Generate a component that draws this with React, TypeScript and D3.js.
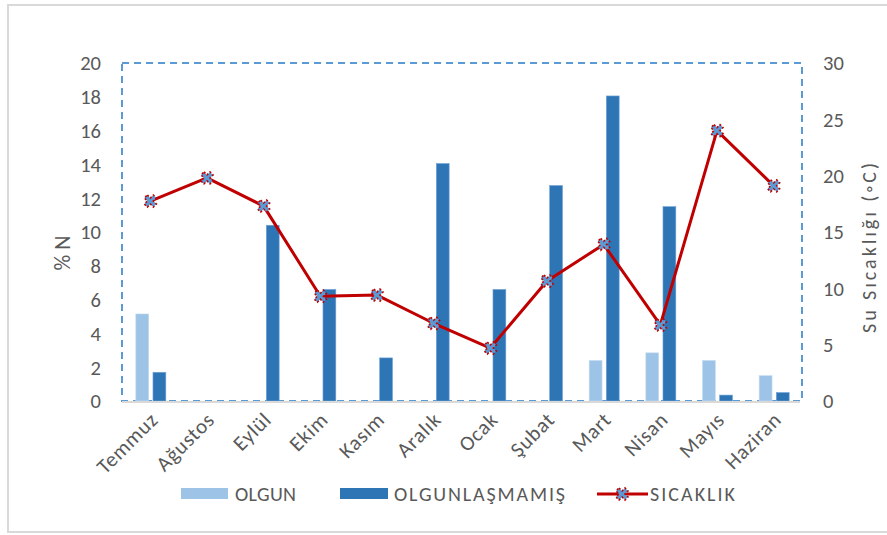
import React from "react";
import * as d3 from "d3";

const months = ["Temmuz", "Ağustos", "Eylül", "Ekim", "Kasım", "Aralık", "Ocak", "Şubat", "Mart", "Nisan", "Mayıs", "Haziran"];
const olgun = [5.15, 0, 0, 0, 0, 0, 0, 0, 2.4, 2.85, 2.4, 1.5];
const olgunlasmamis = [1.7, 0, 10.4, 6.6, 2.55, 14.05, 6.6, 12.75, 18.05, 11.5, 0.35, 0.5];
const sicaklik = [17.75, 19.8, 17.3, 9.3, 9.4, 6.9, 4.7, 10.65, 13.9, 6.75, 24.0, 19.1];
const leftTicks = [0, 2, 4, 6, 8, 10, 12, 14, 16, 18, 20];
const rightTicks = [0, 5, 10, 15, 20, 25, 30];
const seriesNames = ["OLGUN", "OLGUNLAŞMAMIŞ", "SICAKLIK"];

const W = 887, H = 535;
const L = 122, R = 802, T = 63, B = 401;
const FONT = "Carlito, Calibri, Lato, 'Liberation Sans', sans-serif";
const GRAY = "#595959";
const C1 = "#9dc3e6", C2 = "#2e75b6", CL = "#c00000", CM = "#5b9bd5";

export default function App() {
  const x = d3.scaleBand<string>().domain(months).range([L, R]).padding(0);
  const xs = d3.scaleBand<string>().domain(["a", "b"]).range([-14.5, 15.5]).paddingInner(0.25);
  const yL = d3.scaleLinear().domain([0, 20]).range([B, T]);
  const yR = d3.scaleLinear().domain([0, 30]).range([B, T]);
  const cx = (m: string) => (x(m) as number) + x.bandwidth() / 2;
  const line = d3.line<number>().x((_, i) => cx(months[i])).y((d) => yR(d));
  const marker = d3.symbol().type(d3.symbolCross).size(90)() as string;

  return (
    <svg width={W} height={H} style={{ position: "absolute", left: 0, top: 0, background: "#fff" }} fontFamily={FONT}>
      <rect x={8} y={5} width={W} height={527} fill="#fff" stroke="#d9d9d9" strokeWidth={2} />
      <rect x={L} y={T} width={R - L} height={B - T} fill="none" stroke={CM} strokeWidth={2} strokeDasharray="7,5" />
      {months.map((m, i) => (
        <g key={m}>
          {olgun[i] > 0 && (
            <rect x={cx(m) + (xs("a") as number)} y={yL(olgun[i])} width={xs.bandwidth()} height={B - yL(olgun[i])} fill={C1} stroke="#c5dcf0" strokeWidth={0.6} />
          )}
          {olgunlasmamis[i] > 0 && (
            <rect x={cx(m) + (xs("b") as number)} y={yL(olgunlasmamis[i])} width={xs.bandwidth()} height={B - yL(olgunlasmamis[i])} fill={C2} stroke="#6fa3d6" strokeWidth={0.6} />
          )}
        </g>
      ))}
      <line x1={L} x2={R - 2} y1={B + 1} y2={B + 1} stroke="#d9d9d9" strokeWidth={2} />
      <path d={line(sicaklik) as string} fill="none" stroke={CL} strokeWidth={3} strokeLinejoin="round" />
      {sicaklik.map((v, i) => (
        <path key={i} d={marker} transform={`translate(${cx(months[i])},${yR(v)}) rotate(45)`} fill={CM} stroke={CL} strokeWidth={1.6} strokeDasharray="2,2" />
      ))}
      {leftTicks.map((t) => (
        <text key={t} x={101} y={yL(t)} dy="0.36em" textAnchor="end" fontSize={20.5} fill={GRAY}>{t}</text>
      ))}
      {rightTicks.map((t) => (
        <text key={t} x={823} y={yR(t)} dy="0.36em" textAnchor="start" fontSize={20.5} fill={GRAY}>{t}</text>
      ))}
      <text transform={`translate(70,253) rotate(-90)`} textAnchor="middle" fontSize={22} fill={GRAY}>% N</text>
      <text transform={`translate(876,248) rotate(-90)`} textAnchor="middle" fontSize={20} fill={GRAY} textLength={170} lengthAdjust="spacing">Su Sıcaklığı (◦C)</text>
      {months.map((m) => (
        <text key={m} transform={`translate(${cx(m) + 9},${421}) rotate(-45)`} textAnchor="end" fontSize={21} letterSpacing={0.8} fill={GRAY}>{m}</text>
      ))}
      <g fontSize={20} fill={GRAY}>
        <rect x={181} y={488} width={47} height={11} fill={C1} />
        <text x={235} y={494} dy="0.36em" textLength={61} lengthAdjust="spacing">{seriesNames[0]}</text>
        <rect x={340} y={488} width={48} height={11} fill={C2} />
        <text x={394} y={494} dy="0.36em" textLength={171} lengthAdjust="spacing">{seriesNames[1]}</text>
        <line x1={597} x2={648} y1={494} y2={494} stroke={CL} strokeWidth={3} />
        <path d={marker} transform="translate(622,494) rotate(45)" fill={CM} stroke={CL} strokeWidth={1.6} strokeDasharray="2,2" />
        <text x={650} y={494} dy="0.36em" textLength={85} lengthAdjust="spacing">{seriesNames[2]}</text>
      </g>
    </svg>
  );
}
